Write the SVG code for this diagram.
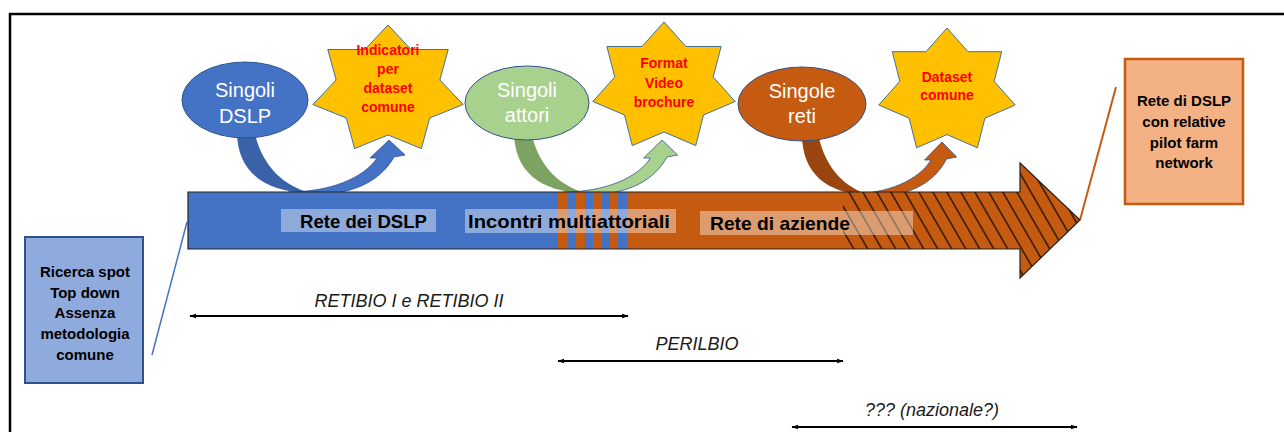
<svg xmlns="http://www.w3.org/2000/svg" width="1284" height="432" viewBox="0 0 1284 432">
<style>
.ell{stroke:#2F528F;stroke-width:1}
.star{fill:#FFC000;stroke:#41719C;stroke-width:1}
.et{font-family:"Liberation Sans",Arial,sans-serif;font-size:20px;fill:#FFFFFF;text-anchor:middle}
.st{font-family:"Liberation Sans",Arial,sans-serif;font-size:14px;font-weight:bold;fill:#FF0000;text-anchor:middle}
.bt{font-family:"Liberation Sans",Arial,sans-serif;font-size:19px;font-weight:bold;fill:#000}
.xt{font-family:"Liberation Sans",Arial,sans-serif;font-size:15px;font-weight:bold;fill:#000;text-anchor:middle}
.it{font-family:"Liberation Sans",Arial,sans-serif;font-size:18px;font-style:italic;fill:#1a1a1a;text-anchor:middle}
.lab{fill:#FFFFFF;fill-opacity:0.4}
.span{stroke:#000;stroke-width:2;fill:none;marker-start:url(#ah);marker-end:url(#ah)}
.cfront{stroke:#2F528F;stroke-width:0.8}
</style>
<defs>
<marker id="ah" viewBox="0 0 10 10" refX="9" refY="5" markerWidth="3.5" markerHeight="3.5" orient="auto-start-reverse"><path d="M0,1.5 L10,5 L0,8.5 z" fill="#000"/></marker>
<pattern id="hatch" patternUnits="userSpaceOnUse" width="14" height="14" patternTransform="translate(843,0) skewX(30)"><line x1="7" y1="-1" x2="7" y2="15" stroke="#000" stroke-width="1.3"/></pattern>
<clipPath id="hclip"><polygon points="843,192 1020,192 1020,163 1080,220 1020,278 1020,249 843,249"/></clipPath>
<g id="curved">
<path d="M237,134 C238,170 262,192 310,193 C285,186 263,168 255,134 Z"/>
<path class="cfront" d="M288,192 C330,192 364,178 377,158 L370,158 L389,140 L405,155 L394,157 C380,182 350,197 305,194 Z"/>
</g>
</defs>

<path id="frame" d="M10,432 V14 H1284" fill="none" stroke="#000" stroke-width="2.5"/>

<g id="connectors">
<g id="arrow-blue"><path d="M237,134 C238,170 262,192 310,193 C285,186 263,168 255,134 Z" fill="#3A62A8"/><path class="cfront" fill="#4472C4" d="M288,192 C330,192 364,178 377,158 L370,158 L389,140 L405,155 L394,157 C380,182 350,197 305,194 Z"/></g>
<g id="arrow-green" transform="matrix(0.974 0 0 1 283.2 0)"><path d="M237,134 C238,170 262,192 310,193 C285,186 263,168 255,134 Z" fill="#7DA362"/><path class="cfront" fill="#A9D18E" d="M288,192 C330,192 364,178 377,158 L370,158 L389,140 L405,155 L394,157 C380,182 350,197 305,194 Z"/></g>
<g id="arrow-orange" transform="matrix(0.921 0 0 1 583.7 2)"><path d="M237,134 C238,170 262,192 310,193 C285,186 263,168 255,134 Z" fill="#9A4510"/><path class="cfront" fill="#C55A11" d="M288,192 C330,192 364,178 377,158 L370,158 L389,140 L405,155 L394,157 C380,182 350,197 305,194 Z"/></g>
<line id="link-left" x1="152" y1="355" x2="187" y2="222" stroke="#4472C4" stroke-width="1.5"/>
<line id="link-right" x1="1080" y1="220" x2="1116" y2="87" stroke="#C55A11" stroke-width="2"/>
</g>

<g id="timeline-bar">
<path d="M188,192 L1020,192 L1020,163 L1080,220 L1020,278 L1020,249 L188,249 Z" fill="#C55A11"/>
<rect x="188" y="192" width="370" height="57" fill="#4472C4"/>
<rect x="567" y="192" width="9" height="57" fill="#4472C4"/>
<rect x="585" y="192" width="8" height="57" fill="#4472C4"/>
<rect x="602" y="192" width="8" height="57" fill="#4472C4"/>
<rect x="618" y="192" width="9" height="57" fill="#4472C4"/>
<rect x="830" y="150" width="260" height="140" fill="url(#hatch)" clip-path="url(#hclip)"/>
<path d="M188,192 L1020,192 L1020,163 L1080,220 L1020,278 L1020,249 L188,249 Z" fill="none" stroke="#222" stroke-width="1.2"/>
</g>

<g id="label-rete-dslp"><rect class="lab" x="281" y="209" width="155" height="23"/><text class="bt" x="300" y="228" textLength="127" lengthAdjust="spacingAndGlyphs">Rete dei DSLP</text></g>
<g id="label-incontri"><rect class="lab" x="465" y="209" width="211" height="24"/><text class="bt" x="468" y="228" textLength="202" lengthAdjust="spacingAndGlyphs">Incontri multiattoriali</text></g>
<g id="label-aziende"><rect class="lab" x="700" y="211" width="213" height="24"/><text class="bt" x="710" y="230" textLength="140" lengthAdjust="spacingAndGlyphs">Rete di aziende</text></g>

<g id="node-singoli-dslp"><ellipse class="ell" cx="245" cy="100" rx="63" ry="38" fill="#4472C4"/><text class="et" x="245" y="97">Singoli</text><text class="et" x="245" y="123">DSLP</text></g>
<g id="node-singoli-attori"><ellipse class="ell" cx="527" cy="103" rx="62" ry="37" fill="#A9D18E"/><text class="et" x="527" y="97">Singoli</text><text class="et" x="527" y="122">attori</text></g>
<g id="node-singole-reti"><ellipse class="ell" cx="802" cy="104" rx="64" ry="37" fill="#C55A11"/><text class="et" x="802" y="98">Singole</text><text class="et" x="802" y="123">reti</text></g>

<g id="star-indicatori"><polygon class="star" points="388,25 411.1,49.5 448.2,49.5 439.9,80 463.1,104.5 429.7,118 421.4,148.6 388,135 354.6,148.6 346.3,118 312.9,104.5 336.1,80 327.8,49.5 364.9,49.5"/>
<text class="st" x="388" y="55">Indicatori</text><text class="st" x="388" y="74">per</text><text class="st" x="388" y="93">dataset</text><text class="st" x="388" y="112">comune</text></g>
<g id="star-format"><polygon class="star" points="664,22 685.9,46.5 721.1,46.5 713.2,77 735.2,101.5 703.5,115 695.7,145.6 664,132 632.3,145.6 624.5,115 592.8,101.5 614.8,77 606.9,46.5 642.1,46.5"/>
<text class="st" x="664" y="68">Format</text><text class="st" x="664" y="88">Video</text><text class="st" x="664" y="107">brochure</text></g>
<g id="star-dataset"><polygon class="star" points="947,28 968,51.7 1001.7,51.7 994.2,81.3 1015.2,105 984.9,118.2 977.4,147.8 947,134.6 916.6,147.8 909.1,118.2 878.8,105 899.8,81.3 892.3,51.7 926,51.7"/>
<text class="st" x="947" y="82">Dataset</text><text class="st" x="947" y="100">comune</text></g>

<g id="box-ricerca"><rect x="25" y="237" width="118" height="146" fill="#8FAADC" stroke="#2F528F" stroke-width="2"/>
<text class="xt" x="85" y="277">Ricerca spot</text><text class="xt" x="85" y="298">Top down</text><text class="xt" x="85" y="318">Assenza</text><text class="xt" x="85" y="339">metodologia</text><text class="xt" x="85" y="360">comune</text></g>
<g id="box-rete"><rect x="1125" y="59" width="118" height="145" fill="#F4B183" stroke="#C55A11" stroke-width="2.5"/>
<text class="xt" x="1184" y="106">Rete di DSLP</text><text class="xt" x="1184" y="127">con relative</text><text class="xt" x="1184" y="148">pilot farm</text><text class="xt" x="1184" y="168">network</text></g>

<g id="spans">
<line class="span" x1="190" y1="316" x2="628" y2="316"/><text class="it" x="409" y="307">RETIBIO I e RETIBIO II</text>
<line class="span" x1="558" y1="361" x2="843" y2="361"/><text class="it" x="697" y="350">PERILBIO</text>
<line class="span" x1="792" y1="427" x2="1077" y2="427"/><text class="it" x="932" y="416">??? (nazionale?)</text>
</g>
</svg>
